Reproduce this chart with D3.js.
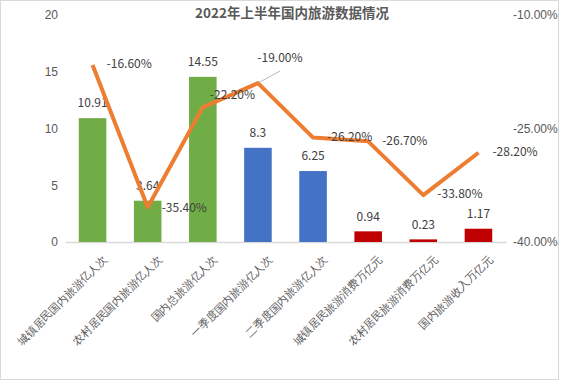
<!DOCTYPE html>
<html><head><meta charset="utf-8">
<script src="https://cdn.jsdelivr.net/npm/d3@7/dist/d3.min.js"></script>
<style>
body{margin:0;background:#fff;}
svg{display:block;font-family:"Noto Sans CJK SC","Noto Sans",sans-serif;}
</style></head>
<body><svg id="c" width="561" height="381"></svg>
<script>
const categories = ["城镇居民国内旅游亿人次","农村居民国内旅游亿人次","国内总旅游亿人次","一季度国内旅游亿人次","二季度国内旅游亿人次","城镇居民旅游消费万亿元","农村居民旅游消费万亿元","国内旅游收入万亿元"];
const barValues = [10.91, 3.64, 14.55, 8.3, 6.25, 0.94, 0.23, 1.17];
const barLabels = ["10.91","3.64","14.55","8.3","6.25","0.94","0.23","1.17"];
const barGroups = ["green","green","green","blue","blue","red","red","red"];
const growthValues = [-16.6, -35.4, -22.2, -19.0, -26.2, -26.7, -33.8, -28.2];
const leftTicks = [0, 5, 10, 15, 20];
const rightTicks = [-40, -25, -10];
const title = "2022年上半年国内旅游数据情况";

// label placement tweaks (layout, not data)
const growthLabelOffset = [[14,0],[14,2],[7,-12],[22,-24],[14,0],[14,0],[14,0],[14,0]];
const colors = {green:"#70AD47", blue:"#4472C4", red:"#C00000"};

const svg = d3.select("#c");
svg.append("rect").attr("x",0.5).attr("y",0.5).attr("width",558).attr("height",379)
  .attr("fill","#fff").attr("stroke","#d9d9d9");

const x = d3.scaleBand().domain(categories).range([65, 506]).paddingInner(0.5).paddingOuter(0.25);
const yL = d3.scaleLinear().domain([0,20]).range([242, 15]);
const yR = d3.scaleLinear().domain([-40,-10]).range([242, 15]);

svg.append("text").attr("x",292).attr("y",18).attr("text-anchor","middle")
  .attr("font-size",13.5).attr("font-weight","bold").attr("fill","#595959").text(title);

// left axis labels
const gl = svg.append("g").attr("transform","translate(58,0)")
  .call(d3.axisLeft(yL).tickValues(leftTicks).tickSize(0).tickPadding(0));
gl.select(".domain").remove();
gl.selectAll("text").attr("font-size",12).attr("fill","#595959").attr("font-family",null);

// right axis labels
const gr = svg.append("g").attr("transform","translate(513,0)")
  .call(d3.axisRight(yR).tickValues(rightTicks).tickSize(0).tickPadding(0).tickFormat(d=>d.toFixed(2)+"%"));
gr.select(".domain").remove();
gr.selectAll("text").attr("font-size",12).attr("fill","#595959").attr("font-family",null);

// bottom axis
const gx = svg.append("g").attr("transform","translate(0,242)")
  .call(d3.axisBottom(x).tickSize(0).tickPadding(0));
gx.select(".domain").attr("stroke","#d9d9d9").attr("stroke-width",1.5);
gx.selectAll("text").attr("font-size",11).attr("fill","#595959").attr("font-family",null)
  .attr("text-anchor","end").attr("dy",null).attr("dominant-baseline","middle")
  .attr("transform","translate(13,16) rotate(-45)");

// bars
svg.append("g").selectAll("rect").data(barValues).join("rect")
  .attr("x",(d,i)=>x(categories[i])).attr("width",x.bandwidth())
  .attr("y",d=>yL(d)).attr("height",d=>yL(0)-yL(d))
  .attr("fill",(d,i)=>colors[barGroups[i]]);

svg.append("g").selectAll("text").data(barValues).join("text")
  .attr("x",(d,i)=>x(categories[i])+x.bandwidth()/2).attr("y",d=>yL(d)-14)
  .attr("text-anchor","middle").attr("dominant-baseline","middle")
  .attr("font-size",12).attr("fill","#404040").text((d,i)=>barLabels[i]);

// line
const cx = i => x(categories[i])+x.bandwidth()/2;
const line = d3.line().x((d,i)=>cx(i)).y(d=>yR(d));
svg.append("path").datum(growthValues).attr("d",line).attr("fill","none")
  .attr("stroke","#ED7D31").attr("stroke-width",4).attr("stroke-linejoin","round");

// leader line for moved label
svg.append("line").attr("x1",cx(3)).attr("y1",yR(growthValues[3]))
  .attr("x2",cx(3)+growthLabelOffset[3][0]).attr("y2",yR(growthValues[3])+growthLabelOffset[3][1]+12)
  .attr("stroke","#a6a6a6").attr("stroke-width",0.8);

svg.append("g").selectAll("text").data(growthValues).join("text")
  .attr("x",(d,i)=>cx(i)+growthLabelOffset[i][0]).attr("y",(d,i)=>yR(d)+growthLabelOffset[i][1])
  .attr("text-anchor",(d,i)=>i===3?"middle":"start").attr("dominant-baseline","middle")
  .attr("font-size",12).attr("fill","#404040").text(d=>d.toFixed(2)+"%");
</script></body></html>
